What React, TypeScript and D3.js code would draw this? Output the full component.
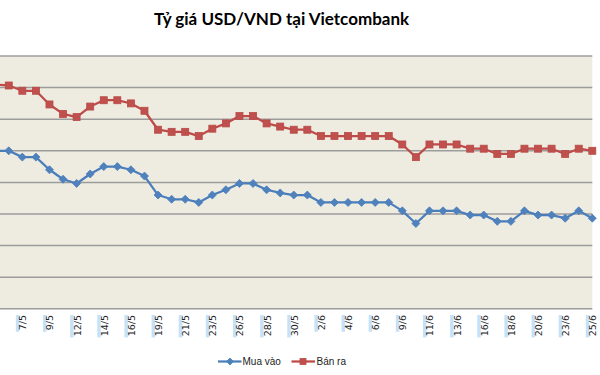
import React from "react";
import * as d3 from "d3";

const dates = [
  "5/5","6/5","7/5","8/5","9/5","10/5","12/5","13/5","14/5","15/5","16/5","17/5",
  "19/5","20/5","21/5","22/5","23/5","24/5","26/5","27/5","28/5","29/5","30/5","31/5",
  "2/6","3/6","4/6","5/6","6/6","7/6","9/6","10/6","11/6","12/6","13/6","14/6",
  "16/6","17/6","18/6","19/6","20/6","21/6","23/6","24/6","25/6",
];

const muaVao = [
  21150,21150,21144,21144,21132,21123,21119,21128,21135,21135,21132,21126,
  21108,21104,21104,21101,21108,21113,21119,21119,21113,21110,21108,21108,
  21101,21101,21101,21101,21101,21101,21093,21081,21093,21093,21093,21089,
  21089,21083,21083,21093,21089,21089,21086,21093,21086,
];

const banRa = [
  21213,21212,21207,21207,21194,21185,21182,21192,21198,21198,21195,21188,
  21170,21168,21168,21164,21171,21176,21183,21183,21176,21173,21170,21170,
  21164,21164,21164,21164,21164,21164,21156,21144,21156,21156,21156,21152,
  21152,21147,21147,21152,21152,21152,21147,21152,21150,
];

const yTicks = [21000, 21030, 21060, 21090, 21120, 21150, 21180, 21210, 21240];

const title = "Tỷ giá USD/VND tại Vietcombank";
const seriesNames = ["Mua vào", "Bán ra"];

const W = 600;
const H = 375;
const plotTop = 56;
const plotBottom = 308.8;
const plotRight = 592.3;
const plotLeft = -4.8;

const BLUE_LINE = "#4a7ebb";
const BLUE_MARK = "#4f81bd";
const RED_LINE = "#be4b48";
const RED_MARK = "#c0504d";

function Diamond({ x, y, r, fill }: { x: number; y: number; r: number; fill: string }) {
  return (
    <path
      d={`M${x},${y - r}L${x + r},${y}L${x},${y + r}L${x - r},${y}Z`}
      fill={fill}
      stroke={BLUE_LINE}
      strokeWidth={0.8}
    />
  );
}

function Square({ x, y, s, fill }: { x: number; y: number; s: number; fill: string }) {
  return (
    <rect x={x - s / 2} y={y - s / 2} width={s} height={s} fill={fill} stroke="#b84a47" strokeWidth={0.8} />
  );
}

export default function App() {
  const x = d3.scalePoint<string>().domain(dates).range([plotLeft, plotRight]);
  const y = d3.scaleLinear().domain([yTicks[0], yTicks[yTicks.length - 1]]).range([plotBottom, plotTop]);

  const line = d3
    .line<number>()
    .x((_, i) => x(dates[i]) as number)
    .y((d) => y(d));

  return (
    <svg
      width={W}
      height={H}
      style={{ position: "absolute", left: 0, top: 0, background: "#ffffff", overflow: "hidden" }}
    >
      <rect x={0} y={0} width={W} height={H} fill="#ffffff" />
      <text
        x={281.5}
        y={25}
        textAnchor="middle"
        fontFamily="Lato, 'Open Sans', sans-serif"
        fontWeight={700}
        fontSize={17}
        fill="#000"
      >
        {title}
      </text>

      {/* plot background */}
      <rect x={plotLeft - 20} y={plotTop} width={plotRight - plotLeft + 20} height={plotBottom - plotTop} fill="#eeece1" />

      {/* gridlines */}
      {yTicks.map((t) => (
        <line
          key={t}
          x1={plotLeft - 20}
          x2={plotRight}
          y1={y(t)}
          y2={y(t)}
          stroke="#9c9c9c"
          strokeWidth={1.5}
        />
      ))}

      {/* x labels */}
      {dates.map((d, i) =>
        i % 2 === 0 ? (
          <g key={d} transform={`translate(${x(d)},315) rotate(-90)`}>
            <rect x={-d.length * 5.6} y={-6.5} width={d.length * 5.6} height={3.5} fill="#c6e2f8" />
            <text
              x={0}
              y={4}
              textAnchor="end"
              fontFamily="'DejaVu Sans', sans-serif"
              fontSize={9.5}
              fill="#1a1a1a"
            >
              {d}
            </text>
          </g>
        ) : null
      )}

      {/* series */}
      <path d={line(muaVao) || ""} fill="none" stroke={BLUE_LINE} strokeWidth={2.25} strokeLinejoin="round" />
      <path d={line(banRa) || ""} fill="none" stroke={RED_LINE} strokeWidth={2.25} strokeLinejoin="round" />
      {muaVao.map((v, i) => (
        <Diamond key={"b" + i} x={x(dates[i]) as number} y={y(v)} r={4} fill={BLUE_MARK} />
      ))}
      {banRa.map((v, i) => (
        <Square key={"r" + i} x={x(dates[i]) as number} y={y(v)} s={7} fill={RED_MARK} />
      ))}

      {/* legend */}
      <g>
        <line x1={218} x2={241.5} y1={361.5} y2={361.5} stroke={BLUE_LINE} strokeWidth={2.25} />
        <Diamond x={230} y={361.5} r={3.5} fill={BLUE_MARK} />
        <text x={242.5} y={365} fontFamily="'Liberation Sans', Arial, sans-serif" fontSize={10} fill="#222">
          {seriesNames[0]}
        </text>
        <line x1={291.5} x2={315} y1={361.5} y2={361.5} stroke={RED_LINE} strokeWidth={2.25} />
        <Square x={303} y={361.5} s={6} fill={RED_MARK} />
        <text x={316.5} y={365} fontFamily="'Liberation Sans', Arial, sans-serif" fontSize={10} fill="#222">
          {seriesNames[1]}
        </text>
      </g>
    </svg>
  );
}
